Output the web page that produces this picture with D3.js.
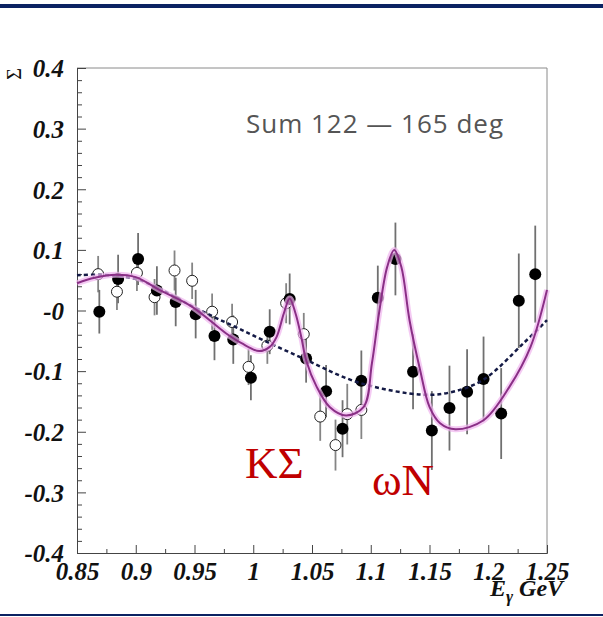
<!DOCTYPE html>
<html>
<head>
<meta charset="utf-8">
<script src="https://cdn.jsdelivr.net/npm/d3@7"></script>
<style>
  body { margin: 0; background: #fff; }
  svg { display: block; }
</style>
</head>
<body>
<svg id="chart" width="603" height="617"></svg>
<script>
// beam asymmetry, sum over 122-165 deg
var xTicks = [0.85, 0.9, 0.95, 1, 1.05, 1.1, 1.15, 1.2, 1.25];
var xTickLabels = ["0.85", "0.9", "0.95", "1", "1.05", "1.1", "1.15", "1.2", "1.25"];
var yTicks = [0.4, 0.3, 0.2, 0.1, 0, -0.1, -0.2, -0.3, -0.4];
var yTickLabels = ["0.4", "0.3", "0.2", "0.1", "-0", "-0.1", "-0.2", "-0.3", "-0.4"];

// filled points: energy, sigma, error
var fullE = [0.869, 0.885, 0.902, 0.918, 0.934, 0.951, 0.967, 0.983, 0.998, 1.014, 1.031, 1.045, 1.062,
             1.076, 1.092, 1.106, 1.121, 1.136, 1.152, 1.167, 1.182, 1.196, 1.211, 1.226, 1.240];
var fullS = [-0.002, 0.052, 0.085, 0.033, 0.014, -0.006, -0.042, -0.048, -0.111, -0.035, 0.019, -0.079, -0.133,
             -0.195, -0.116, 0.021, 0.085, -0.101, -0.198, -0.161, -0.134, -0.113, -0.170, 0.016, 0.060];
var fullErr = [0.036, 0.040, 0.043, 0.040, 0.040, 0.040, 0.040, 0.040, 0.037, 0.037, 0.042, 0.040, 0.043,
               0.047, 0.050, 0.053, 0.060, 0.062, 0.065, 0.070, 0.070, 0.070, 0.075, 0.078, 0.080];

// open points
var openE = [0.868, 0.884, 0.901, 0.916, 0.933, 0.948, 0.965, 0.982, 0.996, 1.012, 1.028, 1.043, 1.057, 1.070, 1.080, 1.092];
var openS = [0.060, 0.031, 0.062, 0.022, 0.066, 0.049, -0.002, -0.019, -0.093, -0.058, 0.012, -0.039, -0.175, -0.222, -0.171, -0.164];
var openErr = [0.030, 0.030, 0.030, 0.030, 0.033, 0.030, 0.030, 0.030, 0.030, 0.030, 0.033, 0.035, 0.040, 0.042, 0.050, 0.048];

// fit with resonances
var fitE = [0.85, 0.865, 0.883, 0.90, 0.92, 0.948, 0.977, 0.99, 1.005, 1.014, 1.020, 1.026, 1.031, 1.036, 1.041,
            1.045, 1.054, 1.065, 1.079, 1.094, 1.101, 1.107, 1.114, 1.120, 1.126, 1.133, 1.142, 1.150, 1.159,
            1.172, 1.196, 1.218, 1.236, 1.25];
var fitS = [0.045, 0.054, 0.059, 0.055, 0.034, 0.006, -0.038, -0.054, -0.067, -0.060, -0.043, -0.005, 0.020, -0.005, -0.045,
            -0.082, -0.126, -0.159, -0.173, -0.159, -0.087, -0.005, 0.072, 0.100, 0.072, -0.016, -0.098, -0.159, -0.186,
            -0.196, -0.181, -0.126, -0.060, 0.034];

// smooth background fit
var bgE = [0.85, 0.87, 0.90, 0.92, 0.95, 0.99, 1.04, 1.09, 1.145, 1.17, 1.196, 1.23, 1.25];
var bgS = [0.058, 0.059, 0.052, 0.036, 0.005, -0.032, -0.077, -0.119, -0.139, -0.134, -0.114, -0.054, -0.016];

var svg = d3.select("#chart");
var pLeft = 77, pRight = 547, pTop = 68, pBottom = 553;

var x = d3.scaleLinear().domain([0.85, 1.25]).range([pLeft, pRight]);
var y = d3.scaleLinear().domain([-0.4, 0.4]).range([pBottom, pTop]);

// header and footer rules
svg.append("rect").attr("x", 0).attr("y", 4).attr("width", 603).attr("height", 4).attr("fill", "#0b2262");
svg.append("rect").attr("x", 0).attr("y", 614).attr("width", 603).attr("height", 2).attr("fill", "#0b2262");

// frame top / right
svg.append("path")
    .attr("d", "M" + pLeft + "," + pTop + "H" + pRight + "V" + pBottom)
    .attr("fill", "none").attr("stroke", "#8a8a8a").attr("stroke-width", 1);

var tickFont = "'Liberation Serif', 'Times New Roman', serif";

// y axis
var yMinor = d3.range(-0.4, 0.4001, 0.02).filter(function(v) { return Math.abs(Math.round(v * 10) - v * 10) > 1e-6; });
svg.append("g").attr("transform", "translate(" + pLeft + ",0)")
    .call(d3.axisLeft(y).tickValues(yMinor).tickSize(-5).tickFormat(""))
    .call(function(g) { g.select(".domain").remove(); g.selectAll("line").attr("stroke", "#444"); });
var yAxis = svg.append("g").attr("transform", "translate(" + pLeft + ",0)")
    .call(d3.axisLeft(y).tickValues(yTicks).tickSize(-9).tickPadding(13)
        .tickFormat(function(d, i) { return yTickLabels[i]; }));
yAxis.select(".domain").attr("stroke", "#444");
yAxis.selectAll("line").attr("stroke", "#444");
yAxis.selectAll("text")
    .attr("font-family", tickFont).attr("font-size", 25).attr("font-weight", "bold").attr("font-style", "italic")
    .attr("fill", "#111").attr("dy", "0.35em");

// x axis
var xMinor = xTicks.slice(0, -1).map(function(v) { return v + 0.025; });
svg.append("g").attr("transform", "translate(0," + pBottom + ")")
    .call(d3.axisBottom(x).tickValues(xMinor).tickSize(-4).tickFormat(""))
    .call(function(g) { g.select(".domain").remove(); g.selectAll("line").attr("stroke", "#444"); });
var xAxis = svg.append("g").attr("transform", "translate(0," + pBottom + ")")
    .call(d3.axisBottom(x).tickValues(xTicks).tickSize(-8).tickPadding(9)
        .tickFormat(function(d, i) { return xTickLabels[i]; }));
xAxis.select(".domain").attr("stroke", "#444");
xAxis.selectAll("line").attr("stroke", "#444");
xAxis.selectAll("text")
    .attr("font-family", tickFont).attr("font-size", 25).attr("font-weight", "bold").attr("font-style", "italic")
    .attr("fill", "#111");

// axis titles
svg.append("text")
    .attr("transform", "translate(21,74) rotate(-90)")
    .attr("text-anchor", "middle")
    .attr("font-family", tickFont).attr("font-size", 20)
    .attr("fill", "#111")
    .text("Σ");

var xt = svg.append("text")
    .attr("x", 490).attr("y", 596)
    .attr("font-family", tickFont).attr("font-size", 24).attr("font-weight", "bold").attr("font-style", "italic")
    .attr("fill", "#111");
xt.append("tspan").text("E");
xt.append("tspan").attr("font-size", 17).attr("dy", 6).text("γ");
xt.append("tspan").attr("dy", -6).text(" GeV");

// title
svg.append("text")
    .attr("x", 375).attr("y", 133)
    .attr("text-anchor", "middle")
    .attr("font-family", "'Open Sans', sans-serif").attr("font-size", 26)
    .attr("letter-spacing", 1)
    .attr("fill", "#555")
    .text("Sum 122 \u2014 165 deg");

// error bars
var plot = svg.append("g");
var openPts = openE.map(function(e, i) { return { e: e, s: openS[i], err: openErr[i] }; });
var fullPts = fullE.map(function(e, i) { return { e: e, s: fullS[i], err: fullErr[i] }; });

plot.selectAll("line.eo").data(openPts).enter().append("line")
    .attr("x1", function(d) { return x(d.e); }).attr("x2", function(d) { return x(d.e); })
    .attr("y1", function(d) { return y(d.s + d.err); }).attr("y2", function(d) { return y(d.s - d.err); })
    .attr("stroke", "#858585").attr("stroke-width", 1.8);
plot.selectAll("line.ef").data(fullPts).enter().append("line")
    .attr("x1", function(d) { return x(d.e); }).attr("x2", function(d) { return x(d.e); })
    .attr("y1", function(d) { return y(d.s + d.err); }).attr("y2", function(d) { return y(d.s - d.err); })
    .attr("stroke", "#707070").attr("stroke-width", 1.8);

plot.selectAll("circle.o").data(openPts).enter().append("circle")
    .attr("cx", function(d) { return x(d.e); }).attr("cy", function(d) { return y(d.s); })
    .attr("r", 5.5).attr("fill", "#fff").attr("stroke", "#222").attr("stroke-width", 1);
plot.selectAll("circle.f").data(fullPts).enter().append("circle")
    .attr("cx", function(d) { return x(d.e); }).attr("cy", function(d) { return y(d.s); })
    .attr("r", 6).attr("fill", "#000");

// curves
var line = d3.line()
    .x(function(d) { return x(d[0]); })
    .y(function(d) { return y(d[1]); })
    .curve(d3.curveCatmullRom.alpha(0.5));

var bgData = bgE.map(function(e, i) { return [e, bgS[i]]; });
var fitData = fitE.map(function(e, i) { return [e, fitS[i]]; });

plot.append("path").datum(bgData).attr("d", line)
    .attr("fill", "none").attr("stroke", "#141a45").attr("stroke-width", 2.5).attr("stroke-dasharray", "4,3");

plot.append("path").datum(fitData).attr("d", line)
    .attr("fill", "none").attr("stroke", "#f0b4ee").attr("stroke-width", 6).attr("stroke-opacity", 0.7);
plot.append("path").datum(fitData).attr("d", line)
    .attr("fill", "none").attr("stroke", "#8a2f86").attr("stroke-width", 2);

// resonance labels
svg.append("text").attr("x", 245).attr("y", 478)
    .attr("font-family", tickFont).attr("font-size", 45).attr("fill", "#c00000")
    .text("KΣ");
svg.append("text").attr("x", 372).attr("y", 495)
    .attr("font-family", tickFont).attr("font-size", 45).attr("fill", "#c00000")
    .text("ωN");
</script>
</body>
</html>
